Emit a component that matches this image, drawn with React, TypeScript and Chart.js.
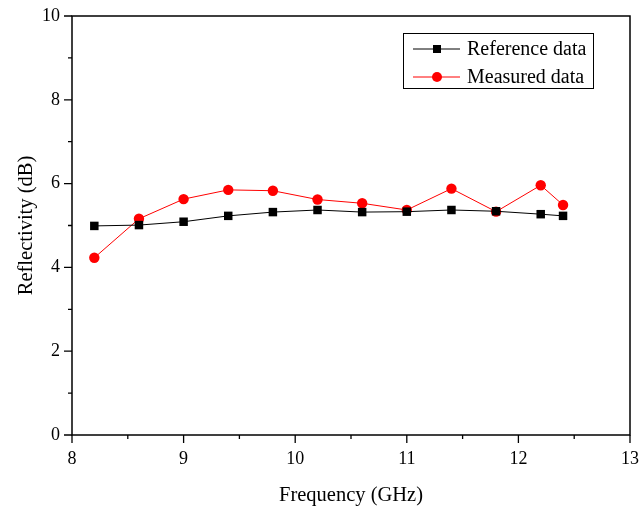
import React, { useEffect, useRef } from "react";
import { Chart, registerables } from "chart.js";

Chart.register(...registerables);

const frequencies = [8.2, 8.6, 9.0, 9.4, 9.8, 10.2, 10.6, 11.0, 11.4, 11.8, 12.2, 12.4];
const referenceData = [4.99, 5.01, 5.09, 5.23, 5.32, 5.37, 5.32, 5.33, 5.37, 5.34, 5.27, 5.23];
const measuredData = [4.23, 5.16, 5.63, 5.85, 5.83, 5.62, 5.53, 5.37, 5.88, 5.33, 5.96, 5.49];
const seriesNames = ["Reference data", "Measured data"];
const xTitle = "Frequency (GHz)";
const yTitle = "Reflectivity (dB)";
const xMajorTicks = [8, 9, 10, 11, 12, 13];
const xMinorTicks = [8.5, 9.5, 10.5, 11.5, 12.5];
const yMajorTicks = [0, 2, 4, 6, 8, 10];
const yMinorTicks = [1, 3, 5, 7, 9];

const FONT = "'Liberation Serif', 'Times New Roman', serif";

const framePlugin = {
  id: "frameTicks",
  afterDraw(chart: any) {
    const { ctx, chartArea } = chart;
    const xs = chart.scales.x;
    const ys = chart.scales.y;
    const { left, right, top, bottom } = chartArea;
    ctx.save();
    ctx.strokeStyle = "#000";
    ctx.lineWidth = 1.5;
    ctx.strokeRect(left, top, right - left, bottom - top);
    ctx.lineWidth = 1.3;
    ctx.beginPath();
    xMajorTicks.forEach((v) => {
      const px = xs.getPixelForValue(v);
      ctx.moveTo(px, bottom);
      ctx.lineTo(px, bottom + 8);
    });
    xMinorTicks.forEach((v) => {
      const px = xs.getPixelForValue(v);
      ctx.moveTo(px, bottom);
      ctx.lineTo(px, bottom + 4);
    });
    yMajorTicks.forEach((v) => {
      const py = ys.getPixelForValue(v);
      ctx.moveTo(left, py);
      ctx.lineTo(left - 8, py);
    });
    yMinorTicks.forEach((v) => {
      const py = ys.getPixelForValue(v);
      ctx.moveTo(left, py);
      ctx.lineTo(left - 4, py);
    });
    ctx.stroke();

    // legend
    const bx = 403, by = 33, bw = 190, bh = 55;
    ctx.lineWidth = 1;
    ctx.strokeRect(bx + 0.5, by + 0.5, bw, bh);
    const rows = [
      { name: seriesNames[0], color: "#000", style: "rect", y: by + 16 },
      { name: seriesNames[1], color: "#ff0000", style: "circle", y: by + 44 },
    ];
    rows.forEach((r) => {
      ctx.strokeStyle = r.color;
      ctx.fillStyle = r.color;
      ctx.lineWidth = 1;
      ctx.beginPath();
      ctx.moveTo(bx + 10, r.y);
      ctx.lineTo(bx + 57, r.y);
      ctx.stroke();
      ctx.beginPath();
      if (r.style === "rect") {
        ctx.rect(bx + 34 - 4, r.y - 4, 8, 8);
      } else {
        ctx.arc(bx + 34, r.y, 5, 0, Math.PI * 2);
      }
      ctx.fill();
      ctx.fillStyle = "#000";
      ctx.font = `20px ${FONT}`;
      ctx.textBaseline = "middle";
      ctx.textAlign = "left";
      ctx.fillText(r.name, bx + 64, r.y + 1);
    });
    ctx.restore();
  },
};

export default function App() {
  const ref = useRef<HTMLCanvasElement | null>(null);
  useEffect(() => {
    if (!ref.current) return;
    const chart = new Chart(ref.current, {
      type: "line",
      data: {
        datasets: [
          {
            label: seriesNames[0],
            data: frequencies.map((f, i) => ({ x: f, y: referenceData[i] })),
            borderColor: "#000",
            backgroundColor: "#000",
            borderWidth: 1,
            pointStyle: "rect",
            pointRadius: 6,
            pointBorderWidth: 0,
            tension: 0,
          },
          {
            label: seriesNames[1],
            data: frequencies.map((f, i) => ({ x: f, y: measuredData[i] })),
            borderColor: "#ff0000",
            backgroundColor: "#ff0000",
            borderWidth: 1,
            pointStyle: "circle",
            pointRadius: 5.2,
            pointBorderWidth: 0,
            tension: 0,
          },
        ],
      },
      options: {
        animation: false,
        responsive: false,
        events: [],
        layout: { padding: { top: 16, right: 10, left: 0, bottom: 0 } },
        plugins: { legend: { display: false }, tooltip: { enabled: false } },
        scales: {
          x: {
            type: "linear",
            min: 8,
            max: 13,
            grid: { display: false, drawTicks: false },
            border: { display: false },
            ticks: {
              stepSize: 1,
              padding: 13,
              color: "#000",
              font: { family: FONT, size: 18 },
              maxRotation: 0,
            },
            title: {
              display: true,
              text: xTitle,
              color: "#000",
              font: { family: FONT, size: 20.5 },
              padding: { top: 0, bottom: 2 },
            },
            afterFit: (s: any) => {
              s.height = 75;
              s.paddingLeft = 0;
              s.paddingRight = 0;
            },
          },
          y: {
            min: 0,
            max: 10,
            grid: { display: false, drawTicks: false },
            border: { display: false },
            ticks: {
              stepSize: 2,
              padding: 12,
              color: "#000",
              font: { family: FONT, size: 18 },
            },
            title: {
              display: true,
              text: yTitle,
              color: "#000",
              font: { family: FONT, size: 20.5 },
              padding: { top: 14, bottom: 0 },
            },
            afterFit: (s: any) => {
              s.width = 72;
              s.paddingTop = 0;
              s.paddingBottom = 0;
            },
          },
        },
      },
      plugins: [framePlugin],
    });
    return () => chart.destroy();
  }, []);
  return (
    <div style={{ position: "fixed", left: 0, top: 0, width: 640, height: 510, background: "#fff" }}>
      <canvas ref={ref} width={640} height={510} style={{ width: 640, height: 510 }} />
    </div>
  );
}
